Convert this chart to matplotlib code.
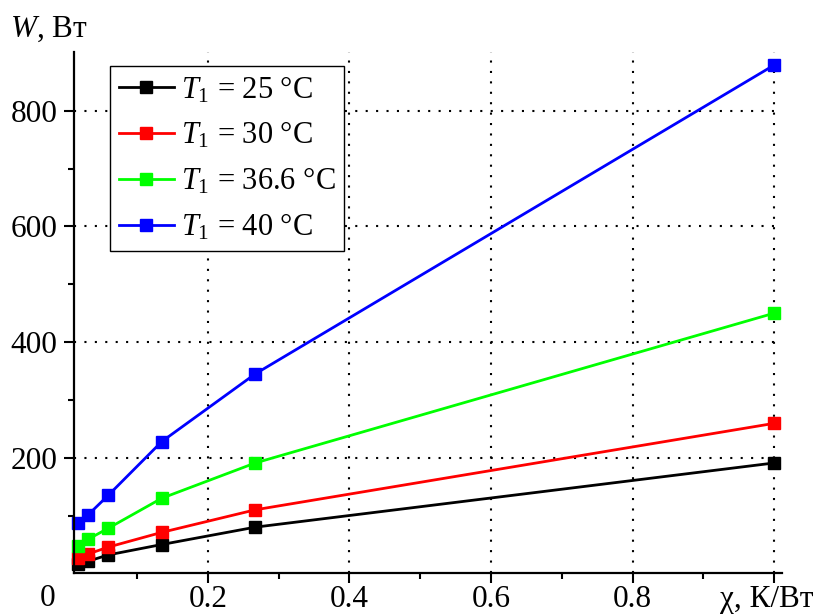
import numpy as np
import matplotlib
matplotlib.use('Agg')
import matplotlib.pyplot as plt
from matplotlib.ticker import FixedLocator

plt.rcParams['font.family'] = ['Liberation Serif', 'DejaVu Serif']
plt.rcParams['mathtext.fontset'] = 'custom'
plt.rcParams['mathtext.rm'] = 'Liberation Serif'
plt.rcParams['mathtext.it'] = 'Liberation Serif:italic'

# thermal resistance chi, K/W
chi = [0.0161, 0.0307, 0.0593, 0.135, 0.267, 1.0]

# power W, W for each T1
w_25 = [17, 21, 32, 50, 80, 191]
w_30 = [27, 33.5, 45.5, 71, 110, 259.5]
w_36 = [48, 59, 78, 130, 191, 450]
w_40 = [87, 101, 135, 228, 345, 879]

labels = ['$T_1$ = 25 °C', '$T_1$ = 30 °C', '$T_1$ = 36.6 °C', '$T_1$ = 40 °C']
colors = ['#000000', '#ff0000', '#00ff00', '#0000ff']

FS = 22.5

fig = plt.figure(figsize=(8.15, 6.15), dpi=100)
ax = fig.add_axes([0.0908, 0.0676, 0.8683, 0.8483])

for ys, lab, col in zip([w_25, w_30, w_36, w_40], labels, colors):
    ax.plot(chi, ys, '-s', color=col, lw=2.0, ms=8, label=lab, clip_on=False)

ax.set_xlim(0.011, 1.0105)
ax.set_ylim(0, 902)

ax.xaxis.set_major_locator(FixedLocator([0.2, 0.4, 0.6, 0.8, 1.0]))
ax.xaxis.set_minor_locator(FixedLocator([0.1, 0.3, 0.5, 0.7, 0.9]))
ax.yaxis.set_major_locator(FixedLocator([200, 400, 600, 800]))
ax.yaxis.set_minor_locator(FixedLocator([100, 300, 500, 700]))
ax.set_xticklabels(['0.2', '0.4', '0.6', '0.8', ''])

ax.tick_params(which='major', direction='out', length=7, width=1.5,
               labelsize=FS, pad=5)
ax.tick_params(axis='x', which='major', pad=1.5)
ax.tick_params(which='minor', direction='out', length=4, width=1.5)

for s in ['top', 'right']:
    ax.spines[s].set_visible(False)
for s in ['left', 'bottom']:
    ax.spines[s].set_linewidth(1.6)

ax.grid(True, which='major', color='black', lw=1.5, ls=(0, (1, 4)))
ax.set_axisbelow(True)

fig.text(48 / 815, 1 - 599 / 615, '0', fontsize=FS, ha='center', va='center')
fig.text(767 / 815, 1 - 599 / 615, 'χ, К/Вт', fontsize=FS, ha='center', va='center')
fig.text(10 / 815, 1 - 29 / 615, '$W$, Вт', fontsize=FS, ha='left', va='center')

leg = ax.legend(loc='upper left', bbox_to_anchor=(0.0509, 0.9726), borderaxespad=0,
                fontsize=22, handlelength=1.8, handletextpad=0.25,
                labelspacing=0.5, borderpad=0.28, fancybox=False, framealpha=1)
leg.get_frame().set_edgecolor('black')
leg.get_frame().set_linewidth(1.0)

plt.savefig('out.png', dpi=100)
